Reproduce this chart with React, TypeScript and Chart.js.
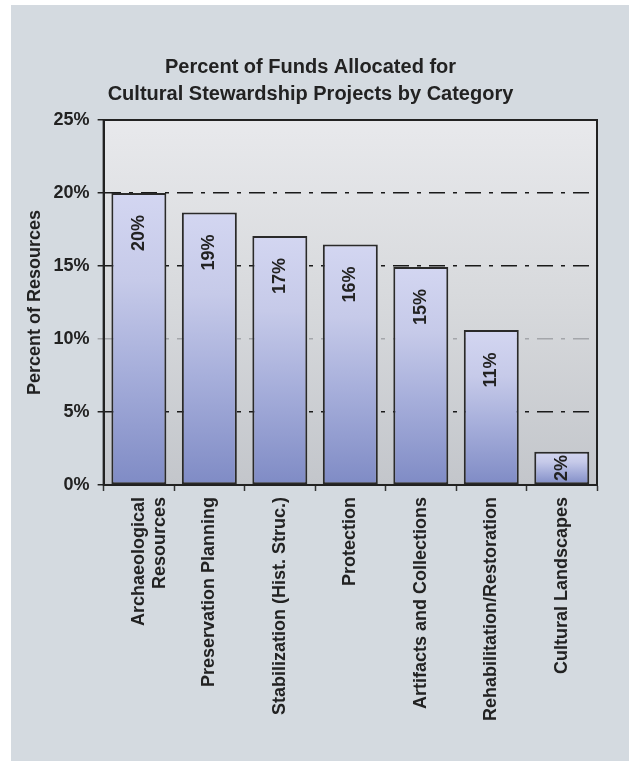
import React, { useEffect, useRef } from "react";
import { Chart, registerables } from "chart.js";

Chart.register(...registerables);

const TITLE_LINES = ["Percent of Funds Allocated for", "Cultural Stewardship Projects by Category"];
const Y_TITLE = "Percent of Resources";
const CATEGORIES: (string | string[])[] = [
  ["Archaeological", "Resources"],
  "Preservation Planning",
  "Stabilization (Hist. Struc.)",
  "Protection",
  "Artifacts and Collections",
  "Rehabilitation/Restoration",
  "Cultural Landscapes",
];
const VALUES = [20.0, 18.66, 17.05, 16.48, 14.93, 10.62, 2.27];
const VALUE_LABELS = ["20%", "19%", "17%", "16%", "15%", "11%", "2%"];
const Y_MIN = 0;
const Y_MAX = 25;
const Y_STEP = 5;

const FONT = '"Liberation Sans", Arial, Helvetica, sans-serif';
const TEXT = "#222222";
const PANEL = "#d4dae0";

const plotBgPlugin = {
  id: "plotBg",
  beforeDraw(chart: any) {
    const { ctx, chartArea } = chart;
    if (!chartArea) return;
    const g = ctx.createLinearGradient(0, chartArea.top, 0, chartArea.bottom);
    g.addColorStop(0, "#e8e9ec");
    g.addColorStop(0.5, "#d7d9dc");
    g.addColorStop(1, "#c3c6cb");
    ctx.save();
    ctx.fillStyle = g;
    ctx.fillRect(chartArea.left, chartArea.top, chartArea.right - chartArea.left, chartArea.bottom - chartArea.top);
    ctx.restore();
  },
};

const frameAndLabelsPlugin = {
  id: "frameAndLabels",
  afterDatasetsDraw(chart: any) {
    const { ctx, chartArea } = chart;
    ctx.save();
    ctx.strokeStyle = "#222";
    ctx.lineWidth = 2;
    ctx.strokeRect(chartArea.left, chartArea.top, chartArea.right - chartArea.left, chartArea.bottom - chartArea.top);
    const meta = chart.getDatasetMeta(0);
    ctx.font = `bold 18px ${FONT}`;
    ctx.fillStyle = TEXT;
    ctx.textAlign = "center";
    ctx.textBaseline = "middle";
    meta.data.forEach((bar: any, i: number) => {
      const top = bar.y;
      const bottom = bar.base;
      const cy = Math.min(top + 40, (top + bottom) / 2);
      ctx.save();
      ctx.translate(bar.x, cy);
      ctx.rotate(-Math.PI / 2);
      ctx.fillText(VALUE_LABELS[i], 0, 0);
      ctx.restore();
    });
    ctx.restore();
  },
};

export default function App() {
  const ref = useRef<HTMLCanvasElement | null>(null);

  useEffect(() => {
    if (!ref.current) return;
    const chart = new Chart(ref.current, {
      type: "bar",
      data: {
        labels: CATEGORIES,
        datasets: [
          {
            data: VALUES,
            backgroundColor: (c: any) => {
              const ch = c.chart;
              if (!ch.chartArea || c.type !== "data") return "#b0b6e0";
              const ys = ch.scales.y;
              const top = ys.getPixelForValue(c.raw as number);
              const bottom = ys.getPixelForValue(0);
              const g = ch.ctx.createLinearGradient(0, top, 0, bottom);
              g.addColorStop(0, "#d3d6f1");
              g.addColorStop(0.3, "#c6cae9");
              g.addColorStop(0.6, "#a7afdb");
              g.addColorStop(1, "#7f8bc5");
              return g;
            },
            borderColor: "#2a2a2a",
            borderWidth: 2,
            borderSkipped: false,
            barPercentage: 0.78,
            categoryPercentage: 1,
          },
        ],
      },
      options: {
        animation: false,
        responsive: false,
        devicePixelRatio: 1,
        layout: { padding: { left: 24, right: 32, top: 54, bottom: 34 } },
        plugins: {
          legend: { display: false },
          tooltip: { enabled: false },
          title: {
            display: true,
            text: TITLE_LINES,
            color: TEXT,
            font: { family: FONT, size: 20, weight: "bold", lineHeight: 1.35 },
            padding: { top: 0, bottom: 12 },
          },
        },
        scales: {
          x: {
            offset: true,
            grid: {
              display: true,
              drawOnChartArea: false,
              drawTicks: true,
              tickLength: 6,
              color: "#333",
              tickColor: "#333",
              tickWidth: 1.5,
            },
            border: { display: true, color: "#222", width: 2 },
            ticks: {
              autoSkip: false,
              minRotation: 90,
              maxRotation: 90,
              padding: 6,
              color: TEXT,
              font: { family: FONT, size: 18, weight: "bold", lineHeight: 1.2 },
            },
          },
          y: {
            min: Y_MIN,
            max: Y_MAX,
            grid: {
              color: (c: any) =>
                c.tick && (c.tick.value === Y_MIN || c.tick.value === Y_MAX)
                  ? "rgba(0,0,0,0)"
                  : c.tick && c.tick.value === 10
                  ? "#a4a6aa"
                  : "#1a1a1a",
              tickColor: (c: any) => (c.tick && c.tick.value === 10 ? "#a4a6aa" : "#222"),
              lineWidth: 1.5,
              tickLength: 6,
              tickWidth: 1.5,
            },
            border: { display: true, color: "#222", width: 2, dash: [16, 8, 4, 8] },
            ticks: {
              stepSize: Y_STEP,
              padding: 8,
              color: TEXT,
              font: { family: FONT, size: 18, weight: "bold" },
              callback: (v: any) => `${v}%`,
            },
            title: {
              display: true,
              text: Y_TITLE,
              color: TEXT,
              font: { family: FONT, size: 18, weight: "bold", lineHeight: 1.2 },
              padding: { top: 0, bottom: 0 },
            },
          },
        },
      },
      plugins: [plotBgPlugin, frameAndLabelsPlugin],
    });
    return () => chart.destroy();
  }, []);

  return (
    <div style={{ position: "fixed", left: 0, top: 0, width: 629, height: 761, background: "#ffffff" }}>
      <div style={{ position: "absolute", left: 11, top: 5, right: 0, bottom: 0, background: PANEL }} />
      <canvas ref={ref} width={629} height={761} style={{ position: "absolute", left: 0, top: 0 }} />
    </div>
  );
}
